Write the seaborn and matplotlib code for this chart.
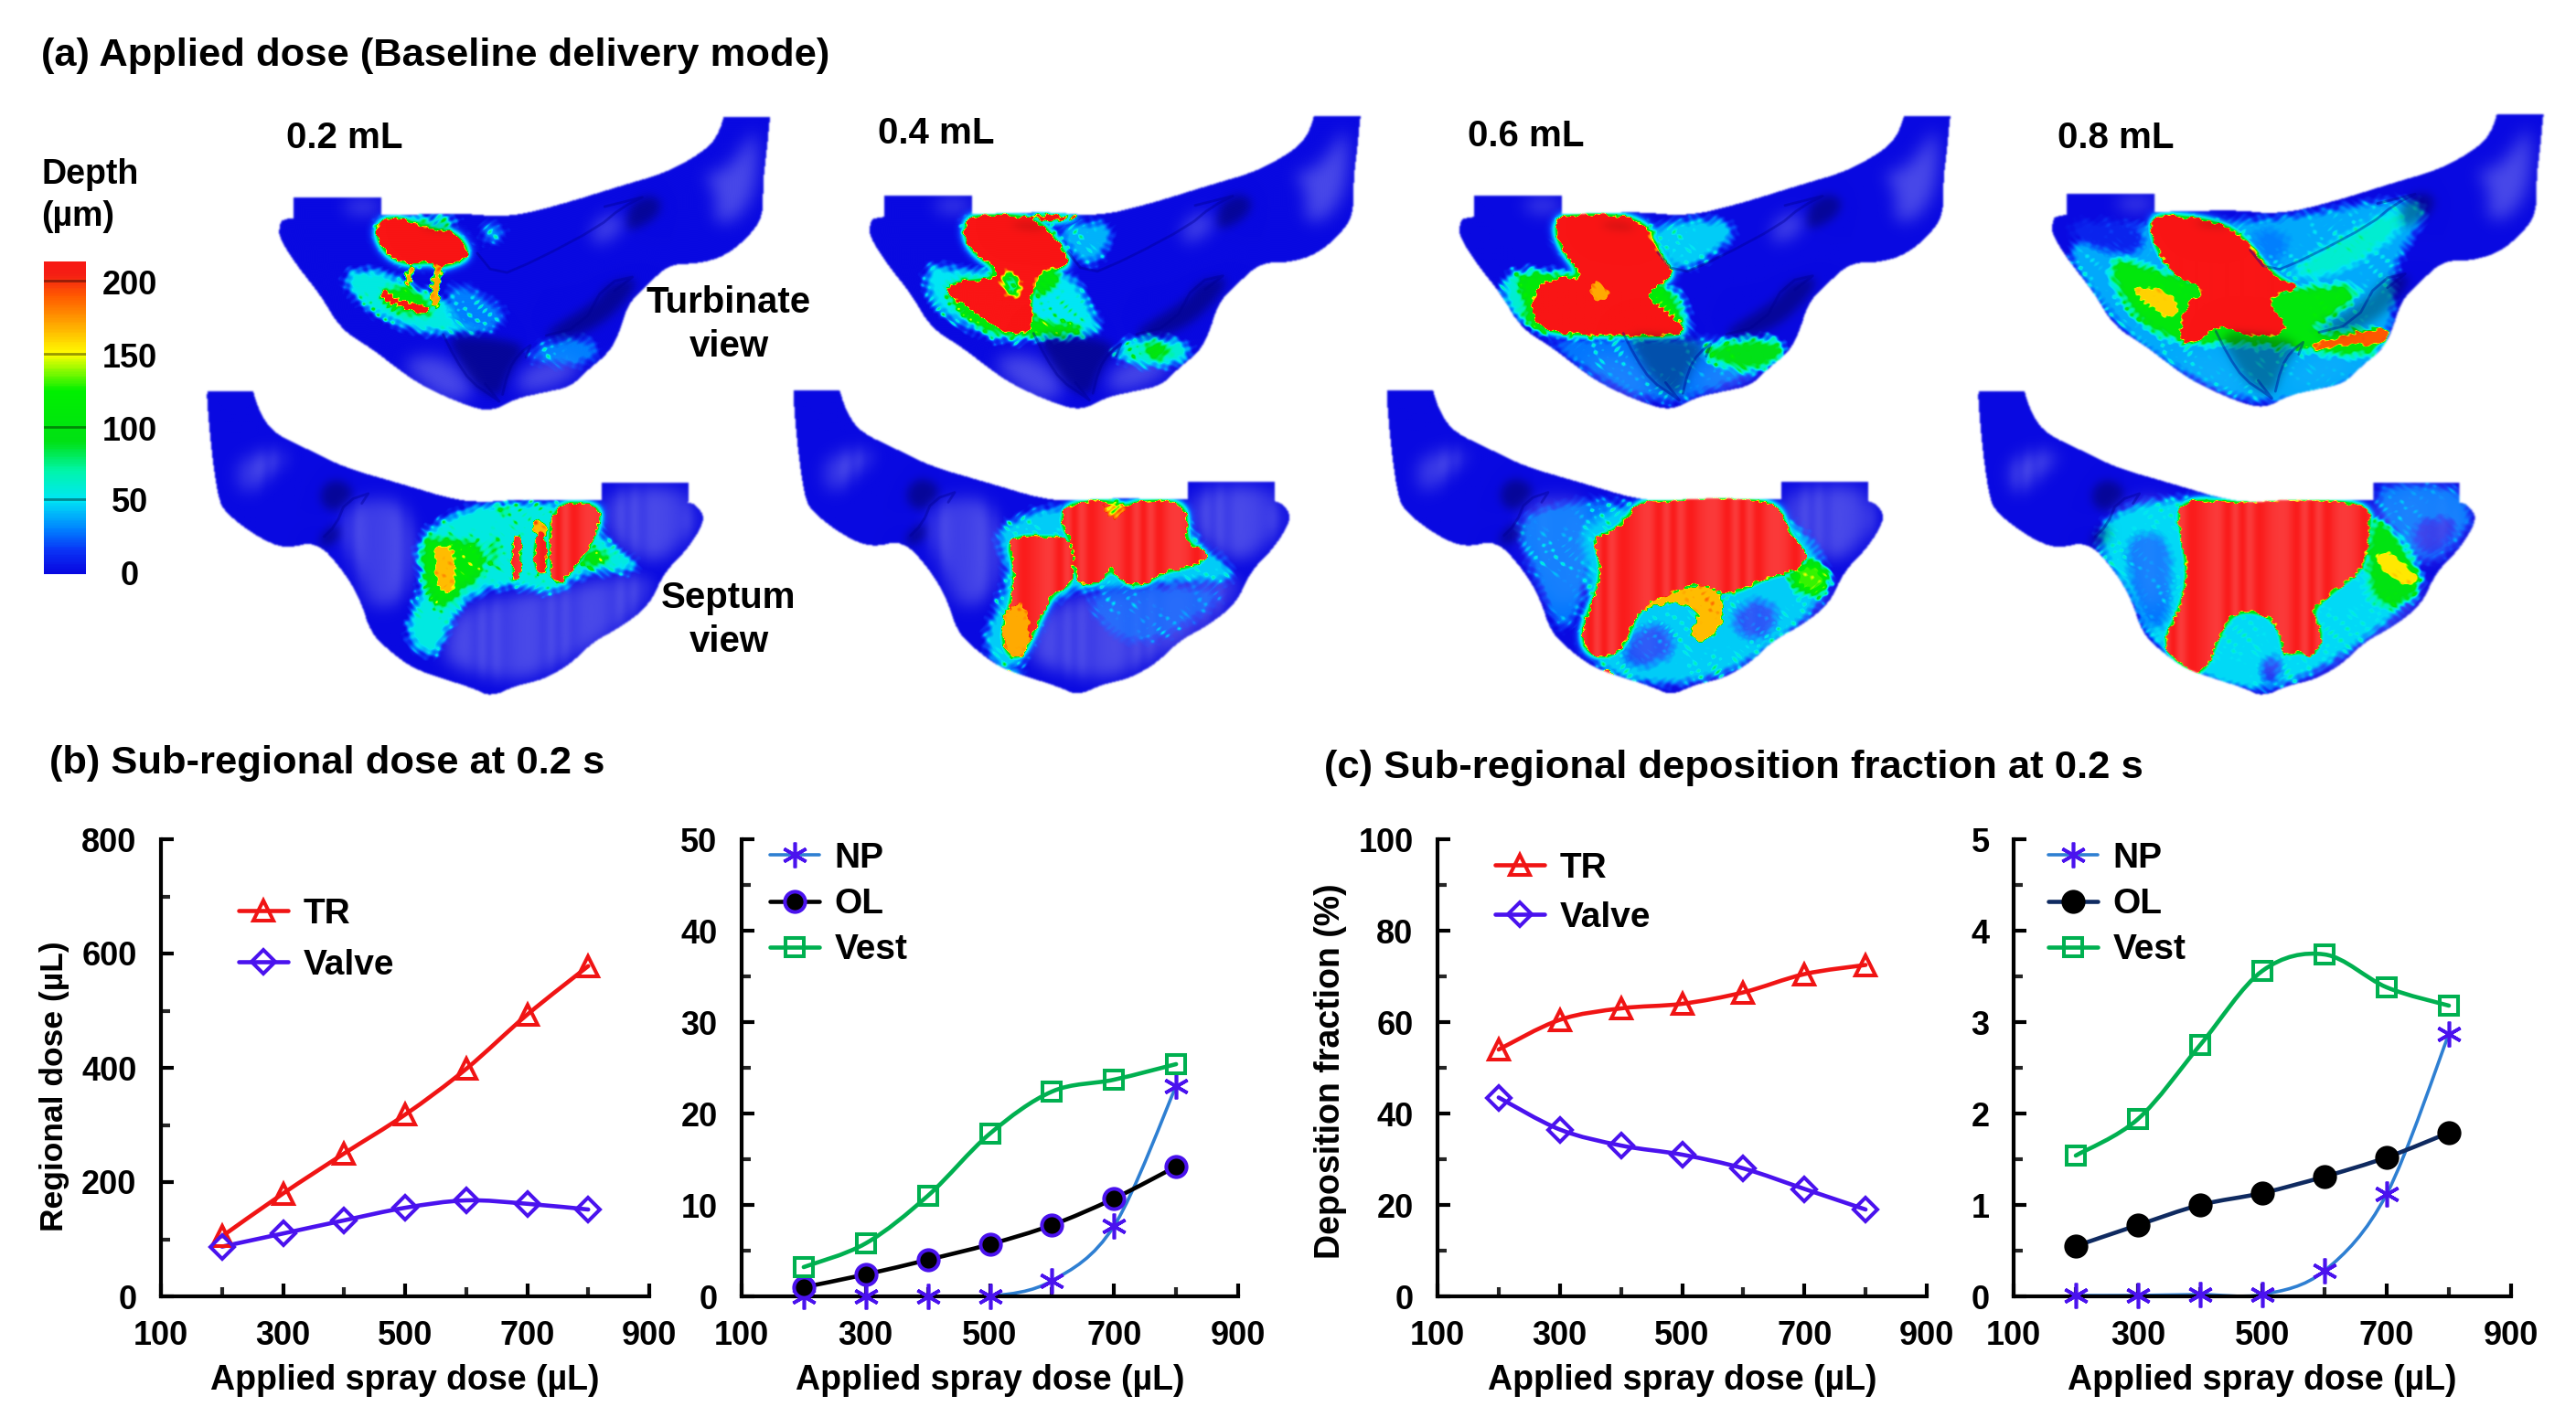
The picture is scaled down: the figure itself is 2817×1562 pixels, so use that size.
import numpy as np
import matplotlib
matplotlib.use('Agg')
import matplotlib.pyplot as plt
import seaborn as sns
from matplotlib.colors import LinearSegmentedColormap
from matplotlib.lines import Line2D
from matplotlib.patches import PathPatch
from matplotlib.path import Path

# chart data
dose = [200, 300, 400, 500, 600, 700, 800]
b_tr = [105, 180, 250, 318, 398, 493, 578]
b_valve = [87, 110, 133, 155, 168, 162, 152]
b_np = [0, 0, 0, 0, 1.7, 7.7, 23]
b_ol = [1, 2.4, 4, 5.7, 7.8, 10.7, 14.2]
b_vest = [3.2, 5.8, 11, 17.8, 22.4, 23.7, 25.4]
c_tr = [54, 60.5, 63, 64, 66.5, 70.5, 72.5]
c_valve = [43.5, 36.5, 33, 31, 28, 23.5, 19]
c_np = [0.01, 0.01, 0.02, 0.02, 0.28, 1.12, 2.87]
c_ol = [0.55, 0.78, 1, 1.13, 1.31, 1.52, 1.79]
c_vest = [1.54, 1.94, 2.75, 3.56, 3.74, 3.38, 3.18]
depth_ticks = [200, 150, 100, 50, 0]
volumes = ['0.2 mL', '0.4 mL', '0.6 mL', '0.8 mL']

# nasal cavity geometry, in units of the 680 px crops (x2.306)
turb_outline = [(205,292),(452,287),(560,285),(650,282),(770,293),(900,262),(1060,212),(1170,180),(1260,130),(1300,90),(1322,20),(1322,-40),(1446,-40),(1432,40),(1425,120),(1415,200),(1415,290),(1380,340),(1320,390),(1250,410),(1180,410),(1120,465),(1075,510),(1050,590),(1025,635),(970,680),(930,720),(860,735),(790,750),(730,783),(660,765),(560,720),(500,680),(430,625),(350,575),(300,490),(240,415),(195,345),(195,315)]
turb_tube = [(232,242),(452,242),(452,295),(232,295)]
turb_top = 40
sept_outline = [(8,680),(118,680),(128,732),(150,795),(185,840),(270,880),(360,925),(500,965),(640,1007),(720,1012),(800,1005),(1008,1008),(1226,1005),(1262,1035),(1265,1065),(1225,1130),(1165,1190),(1130,1270),(1060,1325),(985,1365),(930,1420),(860,1460),(790,1475),(730,1503),(680,1480),(600,1455),(530,1430),(470,1385),(425,1340),(400,1260),(360,1190),(290,1110),(210,1130),(140,1100),(60,1040),(40,1000),(20,850)]
sept_tube = [(1008,963),(1226,963),(1226,1012),(1008,1012)]
sept_top = 732

turb_dark = [[(1075,265),(1120,235),(1160,250),(1150,290),(1100,320),(1070,325)],
             [(620,600),(650,660),(690,720),(750,755),(775,680),(820,620),(760,600),(650,590)],
             [(860,585),(1000,500),(1020,460),(1110,440),(1050,530),(960,590),(880,595)],
             [(540,312),(610,312),(650,325),(580,322)]]
turb_light = [[(1260,185),(1320,175),(1370,110),(1400,60),(1400,220),(1350,300),(1290,310),(1300,230)],
              [(500,650),(620,640),(700,740),(620,760),(540,700)],
              [(800,680),(900,640),(970,660),(900,720),(790,740)],
              [(360,250),(450,250),(450,282),(360,282)],
              [(990,300),(1060,280),(1060,330),(980,370)]]
turb_folds = [[(600,570),(640,650),(680,710),(740,750),(755,762)],
              [(755,762),(775,680),(800,640),(840,610)],
              [(680,365),(745,445),(850,400),(1000,320),(1060,270),(1130,235)],
              [(840,600),(960,570),(1020,460),(1110,440)]]
sept_dark = [[(300,975),(340,950),(390,985),(340,1040),(300,1020)],
             [(290,1105),(340,1060),(350,1100),(310,1130)]]
sept_light = [[(640,1270),(900,1230),(1150,1180),(1100,1300),(950,1400),(800,1470),(640,1430),(600,1400)],
              [(1020,975),(1220,975),(1220,1010),(1250,1040),(1240,1090),(1140,1180),(1010,1090)],
              [(370,1010),(500,1000),(540,1100),(520,1250),(430,1290),(400,1200),(350,1100)],
              [(100,900),(190,880),(220,900),(170,940),(110,1000),(90,950)]]
sept_folds = [[(300,1110),(340,1070),(365,1010),(440,985)]]

# depth patches (depth, polygon), painted in order
turb_patches = [
    [(55,[(340,430),(450,420),(560,480),(690,530),(760,570),(600,590),(500,570),(400,520)]),
     (30,[(620,450),(700,480),(780,540),(720,590),(620,560)]),
     (30,[(820,620),(950,590),(1010,620),(970,670),(830,660)]),
     (35,[(700,320),(720,300),(780,330),(720,370)]),
     (105,[(440,480),(520,460),(590,520),(585,540),(520,540),(460,510)]),
     (260,[(435,325),(465,292),(520,300),(560,320),(640,330),(675,380),(660,400),(625,410),(600,420),(580,400),(540,410),(500,405),(460,380)]),
     (170,[(585,410),(605,410),(600,500),(590,530),(575,510)]),
     (170,[(520,410),(540,420),(525,465),(510,460)]),
     (260,[(450,480),(462,478),(510,508),(585,520),(570,535),(510,525),(455,495)]),
     (100,[(520,295),(660,292),(640,312),(560,315),(520,305)])],
    [(50,[(340,400),(450,430),(700,400),(780,540),(800,590),(620,600),(540,610),(430,560),(360,520)]),
     (40,[(660,310),(830,300),(810,370),(770,420),(730,400)]),
     (115,[(390,450),(520,450),(620,560),(740,560),(760,590),(620,590),(520,590),(430,530)]),
     (260,[(450,300),(480,288),(620,290),(680,350),(720,420),(640,420),(610,500),(620,560),(600,590),(520,570),(470,530),(410,490),(400,460),(490,450),(520,450),(530,420),(480,390),(450,350)]),
     (70,[(540,430),(575,420),(600,480),(570,500),(535,480)]),
     (120,[(620,450),(680,410),(690,440),(650,490),(625,490)]),
     (260,[(600,285),(760,290),(700,300),(620,300)]),
     (60,[(820,620),(890,590),(1030,610),(1010,650),(960,670),(900,670),(830,650)]),
     (115,[(890,610),(980,620),(950,650),(900,640)])],
    [(28,[(380,590),(1000,600),(960,680),(820,730),(720,770),(560,720),(450,640)]),
     (60,[(300,420),(450,430),(720,440),(770,550),(760,600),(370,590),(290,500)]),
     (110,[(320,430),(430,440),(500,440),(700,440),(770,590),(400,590),(350,560),(350,490)]),
     (260,[(425,310),(450,285),(650,290),(700,400),(730,440),(650,480),(700,530),(760,570),(740,590),(600,590),(430,585),(370,560),(370,480),(430,440),(490,450),(490,430),(440,370)]),
     (170,[(530,440),(570,490),(550,510),(510,490)]),
     (45,[(650,320),(780,290),(900,310),(840,380),(740,440),(690,380)]),
     (90,[(800,610),(1000,590),(1010,650),(940,680),(890,680),(800,650)])],
    [(38,[(260,350),(500,300),(800,300),(1100,240),(1210,260),(1100,420),(1110,530),(1080,640),(980,730),(780,770),(620,720),(440,600),(340,480)]),
     (10,[(280,300),(480,300),(470,390),(380,380),(290,340)]),
     (105,[(370,380),(520,430),(700,480),(900,470),(1040,460),(960,540),(860,590),(1100,570),(1060,640),(960,640),(860,620),(720,610),(600,610),(540,600),(440,540)]),
     (160,[(430,460),(560,480),(560,560),(490,520)]),
     (260,[(490,300),(530,285),(690,310),(760,380),(810,450),(880,470),(780,490),(830,560),(830,590),(730,590),(660,560),(600,620),(560,590),(590,500),(640,480),(560,440),(510,380)]),
     (190,[(870,620),(1100,560),(1080,620),(1000,610),(900,630)]),
     (30,[(730,320),(860,330),(800,440),(770,380)]),
     (60,[(830,430),(1030,310),(1130,265),(1130,320),(1000,420),(880,450)])],
]
sept_patches = [
    [(55,[(680,1015),(860,1010),(1005,1020),(1000,1100),(1100,1160),(1100,1190),(950,1190),(900,1250),(780,1220),(690,1240),(640,1290),(590,1410),(540,1390),(510,1330),(560,1220),(530,1100)]),
     (110,[(545,1095),(640,1110),(700,1110),(720,1190),(640,1240),(610,1290),(570,1250)]),
     (110,[(730,1015),(790,1020),(760,1050)]),
     (165,[(585,1110),(640,1130),(640,1240),(590,1240)]),
     (110,[(725,1100),(745,1100),(740,1190),(725,1190)]),
     (260,[(785,1090),(803,1090),(803,1210),(782,1210)]),
     (165,[(835,1060),(860,1050),(880,1100),(835,1100)]),
     (260,[(840,1090),(865,1090),(870,1200),(840,1195)]),
     (110,[(960,1130),(1050,1140),(1000,1175),(950,1170)]),
     (260,[(878,1012),(1005,1018),(1000,1070),(975,1130),(935,1180),(895,1225),(880,1190)])],
    [(45,[(520,1090),(560,1060),(650,1020),(1010,1010),(1020,1100),(1120,1170),(1130,1220),(1000,1210),(830,1240),(730,1230),(660,1270),(600,1420),(540,1450),(490,1370),(520,1290),(560,1190)]),
     (22,[(740,1230),(950,1220),(1120,1230),(1050,1300),(900,1380),(800,1340)]),
     (260,[(550,1100),(670,1100),(720,1110),(720,1220),(690,1230),(660,1250),(590,1410),(555,1400),(540,1340),(570,1250),(575,1170)]),
     (260,[(700,1020),(800,1005),(860,1030),(870,1010),(1005,1010),(1005,1090),(1010,1120),(1070,1145),(1020,1175),(950,1185),(890,1225),(840,1210),(815,1160),(800,1210),(730,1225),(720,1110),(690,1070)]),
     (80,[(800,1005),(860,1020),(830,1060),(800,1030)]),
     (170,[(540,1300),(590,1250),(620,1340),(590,1410),(550,1400)]),
     (230,[(550,1435),(590,1445),(570,1455)])],
    [(28,[(330,1040),(520,1000),(620,1010),(520,1150),(480,1320),(430,1340),(400,1250),(340,1130)]),
     (45,[(480,1090),(560,1030),(640,1005),(1000,1010),(1130,1190),(1090,1280),(950,1400),(800,1470),(640,1470),(560,1450),(480,1370),(510,1230),(500,1130)]),
     (18,[(620,1340),(700,1310),(740,1390),(650,1430),(590,1420)]),
     (18,[(870,1290),(940,1250),(1000,1290),(950,1370),(880,1340)]),
     (130,[(1010,1190),(1070,1150),(1130,1200),(1100,1250),(1040,1240)]),
     (165,[(640,1270),(790,1210),(860,1250),(840,1340),(790,1370),(760,1340),(800,1290),(720,1260),(640,1290)]),
     (260,[(640,1010),(720,1012),(800,1000),(990,1010),(1010,1090),(1070,1150),(1020,1190),(960,1200),(860,1250),(790,1210),(720,1240),(640,1270),(590,1400),(510,1400),(490,1340),(540,1220),(540,1150),(520,1100),(570,1090),(610,1050)]),
     (230,[(530,1435),(585,1440),(570,1455)])],
    [(48,[(380,1040),(560,990),(1060,1010),(1190,1220),(1090,1320),(950,1420),(780,1500),(600,1450),(490,1360),(440,1250),(350,1120)]),
     (28,[(420,1100),(540,1080),(550,1300),(490,1350),(450,1240)]),
     (8,[(780,1400),(820,1400),(820,1470),(770,1470)]),
     (28,[(1060,965),(1270,965),(1310,1050),(1270,1110),(1190,1180),(1100,1090),(1060,1020)]),
     (5,[(1140,1060),(1290,1050),(1190,1170)]),
     (95,[(1040,1050),(1090,1060),(1200,1220),(1100,1290),(1040,1250)]),
     (155,[(1060,1130),(1100,1140),(1190,1220),(1130,1220),(1070,1190)]),
     (260,[(560,1005),(720,1015),(830,1005),(1050,1015),(1040,1100),(1030,1180),(960,1230),(890,1290),(930,1340),(900,1410),(870,1380),(830,1410),(820,1330),(780,1290),(700,1285),(660,1360),(630,1440),(590,1440),(520,1370),(560,1300),(590,1200),(570,1090)])],
]
crop_x = [220, 860, 1515, 2137]
crop_y = 110
crop_k = 1568 / 680
turb_shift = [(0, 0), (13, -3), (-10, -3), (50, -8)]
sept_shift = [(0, 0), (3, -3), (-11, -3), (46, 0)]
spot_amp = [40, 40, 32, 20]

RED, VIOLET, GREEN = '#f01414', '#4a12ee', '#00b050'
BLUE_LINE = '#2e7fd2'

depth_cmap = LinearSegmentedColormap.from_list('depth', [
    (0 / 220, (8/255, 8/255, 225/255)), (15 / 220, (10/255, 50/255, 245/255)),
    (30 / 220, (0, 130/255, 1)), (50 / 220, (0, 230/255, 245/255)),
    (70 / 220, (0, 245/255, 170/255)), (90 / 220, (0, 225/255, 20/255)),
    (125 / 220, (0, 240/255, 0)), (140 / 220, (150/255, 250/255, 0)),
    (150 / 220, (1, 1, 0)), (170 / 220, (1, 170/255, 0)),
    (190 / 220, (1, 90/255, 0)), (205 / 220, (245/255, 30/255, 20/255)),
    (1, (250/255, 20/255, 20/255))])

sns.set_theme(style='ticks')
plt.rcParams['font.family'] = ['Liberation Sans', 'DejaVu Sans']
plt.rcParams['font.weight'] = 'bold'
plt.rcParams['axes.labelweight'] = 'bold'

W, H = 2817, 1562
fig = plt.figure(figsize=(W / 100, H / 100), dpi=100, facecolor='white')


def px_axes(x0, y0, x1, y1):
    return fig.add_axes([x0 / W, 1 - y1 / H, (x1 - x0) / W, (y1 - y0) / H])


def chaikin(pts, n=2):
    p = np.array(pts, float)
    for _ in range(n):
        q = np.roll(p, -1, axis=0)
        p = np.column_stack([0.75 * p + 0.25 * q, 0.25 * p + 0.75 * q]).reshape(-1, 2)
    return p


def blur(a, sigma):
    fy = np.fft.fftfreq(a.shape[0])[:, None]
    fx = np.fft.rfftfreq(a.shape[1])[None, :]
    g = np.exp(-2 * (np.pi * sigma) ** 2 * (fx ** 2 + fy ** 2))
    return np.fft.irfft2(np.fft.rfft2(a) * g, s=a.shape)


def mask_of(poly, pts, shape, smooth=True):
    verts = chaikin(poly) if smooth else np.array(poly, float)
    return Path(verts).contains_points(pts).reshape(shape).astype(float)


def draw_view(ax, origin_x, y_range, outline, tube, top, dark, light, folds, patches, shift, amp, streaks):
    xs = np.arange(-40, 1568, crop_k)
    ys = np.arange(y_range[0], y_range[1], crop_k)
    gx, gy = np.meshgrid(xs, ys)
    pts = np.column_stack([gx.ravel(), gy.ravel()])
    sx, sy = shift
    moved = lambda poly: [(a + sx, b + sy) for a, b in poly]

    body = np.maximum(mask_of(moved(outline), pts, gx.shape), mask_of(moved(tube), pts, gx.shape, False))
    body = body * (gy >= top + sy)
    alpha = np.clip(blur(body, 1.0), 0, 1)

    # irregular texture used for ragged film edges and droplets
    noise = np.sin(gx * 0.19 + 2.2 * np.sin(gy * 0.061)) * np.sin(gy * 0.21 + 2.0 * np.sin(gx * 0.053))
    noise = noise + 0.5 * np.sin(gx * 0.11 - gy * 0.09 + 1.7 * np.sin(gy * 0.04))

    field = np.zeros(gx.shape)
    for value, poly in patches:
        raw = mask_of(poly, pts, gx.shape)
        if value >= 200:
            wide = blur(raw, 5.5)
            field = np.maximum(field, 108 * np.clip(wide * 1.9, 0, 1))
            sigma, k, rag = 2.6, 2.6, 0.36
        elif value >= 150:
            sigma, k, rag = 2.6, 2.6, 0.36
        else:
            sigma, k, rag = 6.0, 1.3, 0.18
        m = np.clip(blur(raw, sigma), 0, 1)
        m = np.clip((m + rag * noise * 4 * m * (1 - m) - 0.5) * k + 0.5, 0, 1)
        field = field * (1 - m) + value * m

    # droplets come in loose clusters, not a lattice
    cluster = np.clip(0.45 + 0.9 * np.sin(gx * 0.023 + 1.3) * np.sin(gy * 0.031 + 0.7), 0, 1)
    spots = np.clip(noise - 0.35, 0, 1.2) ** 1.3 * cluster
    window = np.clip(field / 30, 0, 1) * np.clip((205 - field) / 60, 0, 1)
    field = np.clip(field + amp * spots * window, 0, 220)

    rgb = depth_cmap(field / 220)[:, :, :3]
    d = np.zeros(gx.shape)
    for poly in dark:
        d = np.maximum(d, blur(mask_of(moved(poly), pts, gx.shape), 5))
    li = np.zeros(gx.shape)
    for poly in light:
        li = np.maximum(li, blur(mask_of(moved(poly), pts, gx.shape), 9))
    # wet wall keeps its saturated colour, only the bare wall shows the light shading
    li = li * (1 - np.clip(field / 45, 0, 1))
    if streaks:
        band = 0.6 + 0.4 * np.sin(gx * 0.11 + 2 * np.sin(gx * 0.035))
        li = np.maximum(li * (0.8 + 0.2 * band), 0.6 * (field > 205) * band)
    rgb = rgb + (1 - rgb) * li[:, :, None] * 0.26
    rgb = rgb * (1 - 0.32 * d[:, :, None])
    ax.imshow(np.dstack([rgb, alpha]),
              extent=(origin_x + xs[0] / crop_k, origin_x + (xs[-1] + crop_k) / crop_k,
                      crop_y + (ys[-1] + crop_k) / crop_k, crop_y + ys[0] / crop_k),
              origin='upper', aspect='auto', interpolation='bilinear', zorder=2)
    for line in folds:
        p = chaikin(moved(line), 1)[:-1]
        ax.plot(origin_x + p[:, 0] / crop_k, crop_y + p[:, 1] / crop_k, color='#000090', lw=2, alpha=0.4, zorder=3)


def smooth_line(ax, x, y, color, lw):
    # same curve as a spreadsheet "smoothed line"
    px = np.array(x, float)
    py = np.array(y, float)
    verts = [(px[0], py[0])]
    codes = [Path.MOVETO]
    n = len(px)
    for i in range(n - 1):
        a, b = max(i - 1, 0), min(i + 2, n - 1)
        verts += [(px[i] + (px[i + 1] - px[a]) / 6, py[i] + (py[i + 1] - py[a]) / 6),
                  (px[i + 1] - (px[b] - px[i]) / 6, py[i + 1] - (py[b] - py[i]) / 6),
                  (px[i + 1], py[i + 1])]
        codes += [Path.CURVE4] * 3
    ax.add_patch(PathPatch(Path(verts, codes), fc='none', ec=color, lw=lw, zorder=2, capstyle='round'))


def series(ax, y, style):
    smooth_line(ax, dose, y, style['line'], style.get('lw', 3.3))
    sns.lineplot(x=dose, y=y, ax=ax, marker=style['marker'], linestyle='', errorbar=None, legend=False,
                 markersize=style.get('ms', 16), markerfacecolor=style.get('face', 'none'),
                 markeredgecolor=style['edge'], markeredgewidth=style.get('mew', 2.9), color=style['edge'],
                 clip_on=False, zorder=3)
    return Line2D([], [], color=style['line'], lw=style.get('lw', 3.3), marker=style['marker'],
                  markersize=style.get('ms', 16), markerfacecolor=style.get('face', 'none'),
                  markeredgecolor=style['edge'], markeredgewidth=style.get('mew', 2.9))


TR = dict(line=RED, edge=RED, marker='^')
VALVE = dict(line=VIOLET, edge=VIOLET, marker='D', ms=13)
NP = dict(line=BLUE_LINE, edge=VIOLET, marker=(6, 2, 0), lw=2.6, ms=20, mew=2.6)
OL_B = dict(line='black', edge=VIOLET, marker='o', face='black', ms=16)
OL_C = dict(line='#0f2a60', edge='black', marker='o', face='black', ms=16)
VEST = dict(line=GREEN, edge=GREEN, marker='s', ms=15)


def line_panel(box, yticks, yminor, rows, legend_pos, spacing):
    ax = px_axes(*box)
    ax.set_facecolor('none')
    handles = []
    for name, y, style in rows:
        handles.append((series(ax, y, style), name))
    ax.set_xlim(100, 900)
    ax.set_ylim(yticks[0], yticks[-1])
    ax.set_xticks([100, 300, 500, 700, 900])
    ax.set_xticks([200, 400, 600, 800], minor=True)
    ax.set_yticks(yticks)
    ax.set_yticks(yminor, minor=True)
    ax.tick_params(axis='both', which='major', direction='in', width=3, length=10, labelsize=26, colors='black')
    ax.tick_params(axis='both', which='minor', direction='in', width=3, length=7)
    ax.tick_params(axis='both', which='major', pad=19)
    for s in ['top', 'right']:
        ax.spines[s].set_visible(False)
    for s in ['left', 'bottom']:
        ax.spines[s].set_linewidth(3)
        ax.spines[s].set_color('black')
    ax.set_xlabel('Applied spray dose (µL)', fontsize=27, fontweight='bold', labelpad=9, color='black')
    ax.set_ylabel('')
    leg = ax.legend([h for h, _ in handles], [n for _, n in handles], loc='upper left',
                    bbox_to_anchor=(legend_pos[0] / W, 1 - legend_pos[1] / H), bbox_transform=fig.transFigure,
                    frameon=False, fontsize=28, handlelength=1.4, handletextpad=0.42, labelspacing=spacing,
                    borderpad=0, borderaxespad=0)
    for t in leg.get_texts():
        t.set_fontweight('bold')
        t.set_color('black')
    return ax


# canvas for the cavity views and free text
bg = fig.add_axes([0, 0, 1, 1])
bg.axis('off')
for i in range(4):
    draw_view(bg, crop_x[i], (20, 800), turb_outline, turb_tube, turb_top, turb_dark, turb_light, turb_folds,
              turb_patches[i], turb_shift[i], spot_amp[i], False)
    draw_view(bg, crop_x[i], (715, 1525), sept_outline, sept_tube, sept_top, sept_dark, sept_light, sept_folds,
              sept_patches[i], sept_shift[i], spot_amp[i], True)
bg.set_xlim(0, W)
bg.set_ylim(H, 0)

TXT = dict(color='black', fontweight='bold', va='center')
bg.text(45, 61, '(a) Applied dose (Baseline delivery mode)', fontsize=31.3, ha='left', **TXT)
bg.text(54, 835, '(b) Sub-regional dose at 0.2 s', fontsize=31.3, ha='left', **TXT)
bg.text(1448, 840, '(c) Sub-regional deposition fraction at 0.2 s', fontsize=31.3, ha='left', **TXT)
for label, x, y in zip(volumes, [377, 1024, 1669, 2314], [151, 146, 149, 151]):
    bg.text(x, y, label, fontsize=29, ha='center', **TXT)
bg.text(797, 331, 'Turbinate', fontsize=29, ha='center', **TXT)
bg.text(797, 379, 'view', fontsize=29, ha='center', **TXT)
bg.text(797, 654, 'Septum', fontsize=29, ha='center', **TXT)
bg.text(797, 702, 'view', fontsize=29, ha='center', **TXT)
bg.text(45, 191, 'Depth', fontsize=27, ha='left', **TXT)
bg.text(45, 237, '(µm)', fontsize=27, ha='left', **TXT)
for v, y in zip(depth_ticks, [312, 393, 473, 551, 631]):
    bg.text(142, y, str(v), fontsize=26, ha='center', **TXT)
bg.text(60, 1188, 'Regional dose (µL)', fontsize=25.5, rotation=90, ha='center', **TXT)
bg.text(1455, 1172, 'Deposition fraction (%)', fontsize=27, rotation=90, ha='center', **TXT)

# colour bar
cax = px_axes(48, 286, 94, 628)
levels = np.arange(213, -1, -1, dtype=float).reshape(-1, 1)
sns.heatmap(levels, ax=cax, cmap=depth_cmap, vmin=0, vmax=220, cbar=False, xticklabels=False, yticklabels=False)
for v in depth_ticks[:-1]:
    cax.axhline(213 - v, color='black', alpha=0.4, lw=2)

# line panels
line_panel((176, 918, 710, 1418), [0, 200, 400, 600, 800], [100, 300, 500, 700],
           [('TR', b_tr, TR), ('Valve', b_valve, VALVE)], (261, 982), 0.51)
line_panel((811, 918, 1354, 1418), [0, 10, 20, 30, 40, 50], [5, 15, 25, 35, 45],
           [('NP', b_np, NP), ('OL', b_ol, OL_B), ('Vest', b_vest, VEST)], (842, 921), 0.365)
line_panel((1572, 918, 2107, 1418), [0, 20, 40, 60, 80, 100], [10, 30, 50, 70, 90],
           [('TR', c_tr, TR), ('Valve', c_valve, VALVE)], (1635, 932), 0.46)
line_panel((2202, 918, 2746, 1418), [0, 1, 2, 3, 4, 5], [0.5, 1.5, 2.5, 3.5, 4.5],
           [('NP', c_np, NP), ('OL', c_ol, OL_C), ('Vest', c_vest, VEST)], (2240, 921), 0.365)

fig.savefig('out.png', dpi=100)
